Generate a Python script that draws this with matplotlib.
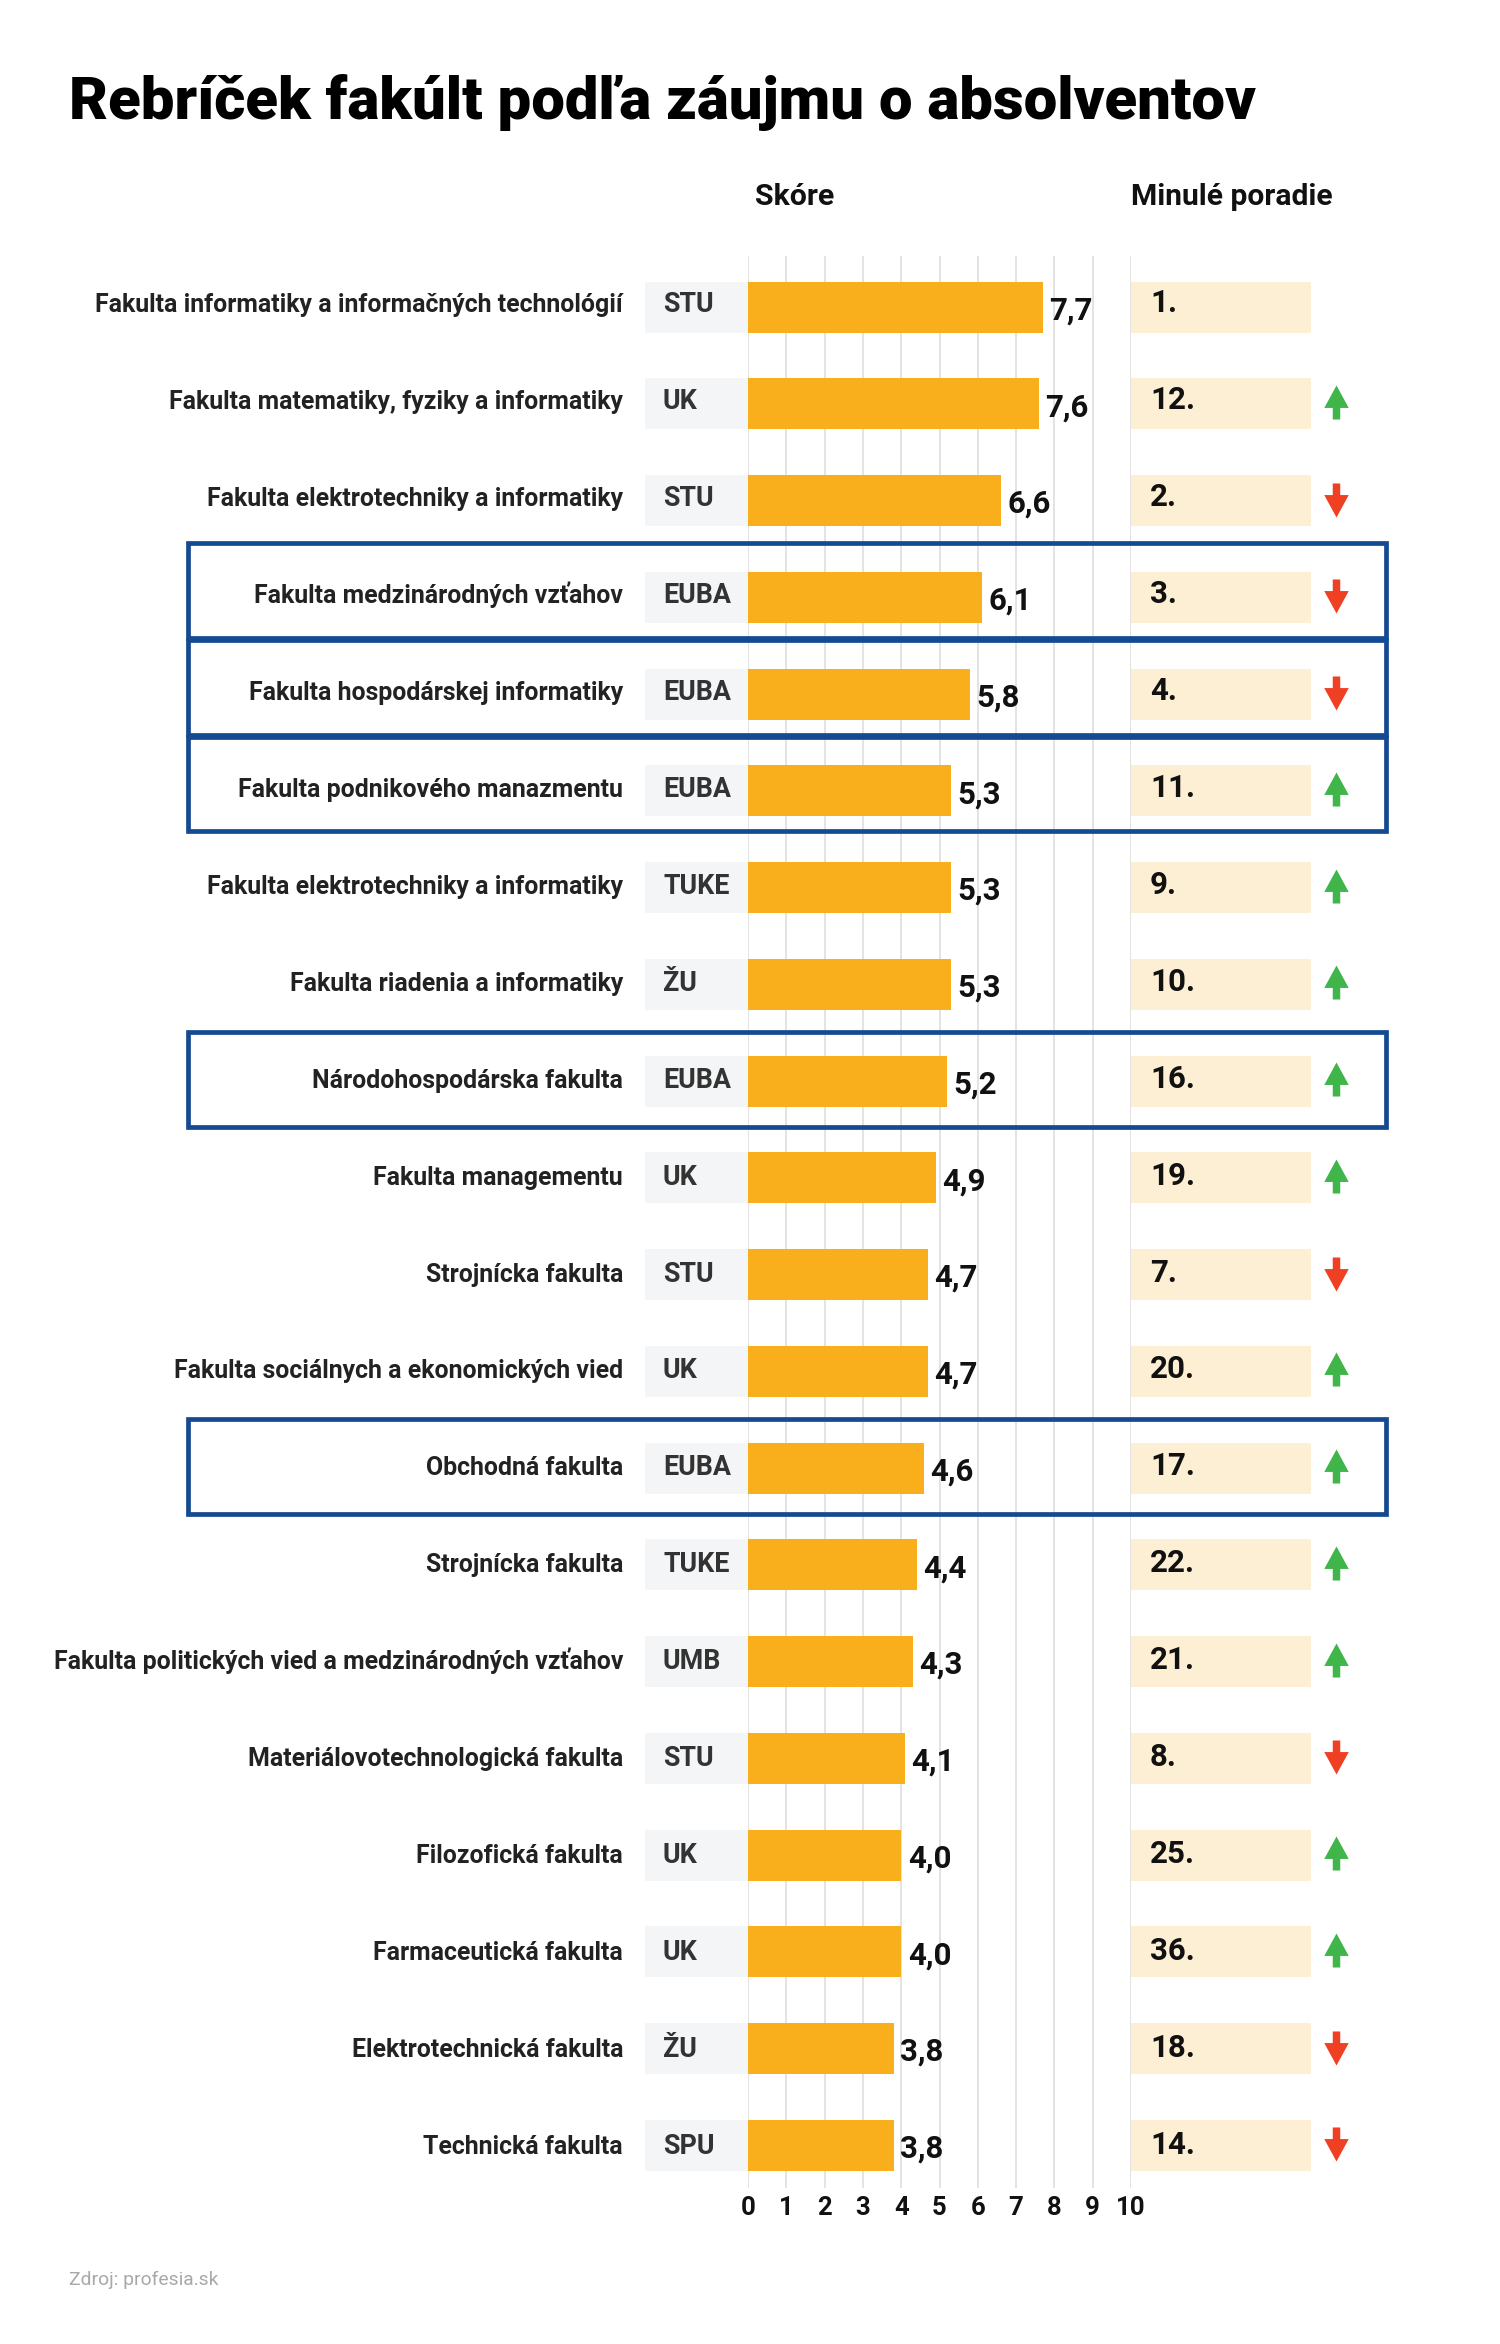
import numpy as np
import matplotlib as mpl
mpl.use('Agg')
from matplotlib import pyplot as plt
from matplotlib.path import Path
from matplotlib.patches import Rectangle

plt.rcParams['font.family'] = ['Roboto', 'DejaVu Sans']

faculties = ['Fakulta informatiky a informačných technológií',
             'Fakulta matematiky, fyziky a informatiky',
             'Fakulta elektrotechniky a informatiky',
             'Fakulta medzinárodných vzťahov',
             'Fakulta hospodárskej informatiky',
             'Fakulta podnikového manazmentu',
             'Fakulta elektrotechniky a informatiky',
             'Fakulta riadenia a informatiky',
             'Národohospodárska fakulta',
             'Fakulta managementu',
             'Strojnícka fakulta',
             'Fakulta sociálnych a ekonomických vied',
             'Obchodná fakulta',
             'Strojnícka fakulta',
             'Fakulta politických vied a medzinárodných vzťahov',
             'Materiálovotechnologická fakulta',
             'Filozofická fakulta',
             'Farmaceutická fakulta',
             'Elektrotechnická fakulta',
             'Technická fakulta']
schools = ['STU', 'UK', 'STU', 'EUBA', 'EUBA', 'EUBA', 'TUKE', 'ŽU', 'EUBA', 'UK',
           'STU', 'UK', 'EUBA', 'TUKE', 'UMB', 'STU', 'UK', 'UK', 'ŽU', 'SPU']
scores = [7.7, 7.6, 6.6, 6.1, 5.8, 5.3, 5.3, 5.3, 5.2, 4.9,
          4.7, 4.7, 4.6, 4.4, 4.3, 4.1, 4.0, 4.0, 3.8, 3.8]
previous = [1, 12, 2, 3, 4, 11, 9, 10, 16, 19, 7, 20, 17, 22, 21, 8, 25, 36, 18, 14]
highlighted = [3, 4, 5, 8, 12]

W, H = 1500, 2344
X0, X10 = 748, 1131
TOP, BOTTOM = 256, 2188
ROW0, PITCH = 307, 96.75
ux = (X10 - X0) / 10.0

def xd(px):
    return (px - X0) / ux

def yd(px):
    return (px - ROW0) / PITCH

def fig_y(px):
    return 1 - px / H

f = plt.figure(figsize=(W / 100, H / 100), dpi=100, facecolor='white')
ax = f.add_axes([X0 / W, fig_y(BOTTOM), (X10 - X0) / W, (BOTTOM - TOP) / H])
ax.set_xlim(0, 10)
ax.set_ylim(yd(BOTTOM), yd(TOP))
ax.patch.set_alpha(0)
for s in ax.spines.values():
    s.set_visible(False)
ax.set_xticks(range(11))
ax.set_yticks([])
ax.tick_params(axis='x', length=0, pad=5.5, labelsize=18.5, labelcolor='#111111')
for t in ax.get_xticklabels():
    t.set_fontweight('bold')
ax.grid(axis='x', color='#dedede', lw=1.2)
ax.set_axisbelow(True)

rows = np.arange(len(scores))
bh = 51 / PITCH

ax.barh(rows, [xd(748) - xd(645)] * len(rows), left=xd(645), height=bh, color='#f4f5f6', zorder=2, clip_on=False)
ax.barh(rows, scores, height=bh, color='#f9ae1b', zorder=3)
ax.barh(rows, [xd(1311) - xd(1131)] * len(rows), left=xd(1131), height=bh, color='#fdefd3', zorder=2, clip_on=False)

shaft = 0.11
up = Path([(-shaft, 0.5), (shaft, 0.5), (shaft, 0.16), (0.36, 0.16), (0, -0.5), (-0.36, 0.16), (-shaft, 0.16), (-shaft, 0.5)])
up = Path(up.vertices * [1, -1])
down = Path(up.vertices * [1, -1])

for i in rows:
    # text rows sit on a slightly wider pitch than the bars
    base = yd(312 + 96.95 * i)
    ax.text(xd(623), base, faculties[i], ha='right', va='baseline', fontsize=17.95,
            fontweight='bold', color='#222222')
    ax.text(xd(663), base, schools[i], ha='left', va='baseline', fontsize=19.4,
            fontweight='bold', color='#333333')
    ax.text(scores[i] + 6.5 / ux, i + 12.5 / PITCH, ('%.1f' % scores[i]).replace('.', ','), ha='left', va='baseline',
            fontsize=22.5, fontweight='bold', color='#111111', zorder=5)
    ax.text(xd(1150), base, '%d.' % previous[i], ha='left', va='baseline', fontsize=22.5,
            fontweight='bold', color='#111111')
    rank = i + 1
    if previous[i] > rank:
        ax.scatter([xd(1336)], [i - 2 / PITCH], marker=up, s=600, color='#3fb54a', linewidths=0, clip_on=False, zorder=4)
    elif previous[i] < rank:
        ax.scatter([xd(1336)], [i - 1 / PITCH], marker=down, s=600, color='#f04023', linewidths=0, clip_on=False, zorder=4)

box_top = [-0.56, -0.56, -0.56, -0.505, -0.505]
for i, t in zip(highlighted, box_top):
    ax.add_patch(Rectangle((xd(188), i + t), xd(1386) - xd(188), 0.98, fill=False,
                           edgecolor='#134a91', lw=3.4, clip_on=False, zorder=6))

f.text(69 / W, fig_y(102.5), 'Rebríček fakúlt podľa záujmu o absolventov', fontsize=43.1, fontweight='black',
       color='#000000', ha='left', va='center')
f.text(754.5 / W, fig_y(197), 'Skóre', fontsize=21.8, fontweight='bold', color='#111111', ha='left', va='center')
f.text(1131 / W, fig_y(197), 'Minulé poradie', fontsize=21.6, fontweight='bold', color='#111111', ha='left', va='center')
f.text(69 / W, fig_y(2280), 'Zdroj: profesia.sk', fontsize=13.9, color='#a8a8a8', ha='left', va='center')

f.savefig('out.png', dpi=100)
